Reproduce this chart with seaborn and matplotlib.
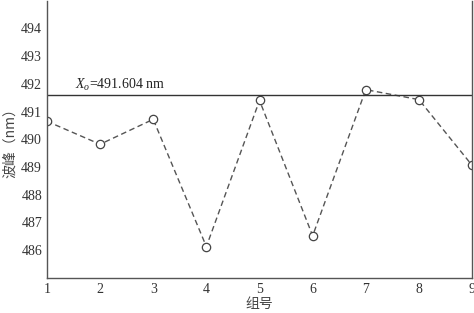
import matplotlib
matplotlib.use("Agg")
import matplotlib.pyplot as plt
import seaborn as sns
import pandas as pd

groups = [1, 2, 3, 4, 5, 6, 7, 8, 9]
peaks = [490.65, 489.82, 490.72, 486.13, 491.40, 486.52, 491.79, 491.43, 489.06]
x0_value = 491.604
y_ticks = [486, 487, 488, 489, 490, 491, 492, 493, 494]

sns.set_theme(style="white")
plt.rcParams['font.family'] = ['Liberation Serif', 'Noto Sans CJK SC']
plt.rcParams['mathtext.fontset'] = 'custom'
plt.rcParams['mathtext.it'] = 'Liberation Serif:italic'
plt.rcParams['mathtext.rm'] = 'Liberation Serif'

df = pd.DataFrame({"group": groups, "peak": peaks})

fig = plt.figure(figsize=(4.74, 3.13), dpi=100)
ax = fig.add_axes([0.099, 0.112, 0.897, 0.886])

sns.lineplot(data=df, x="group", y="peak", ax=ax, color="#555555",
             linestyle=(0, (4, 2.5)), linewidth=1.0, marker="o",
             markersize=6, markerfacecolor="white", markeredgecolor="#444444",
             markeredgewidth=0.9)
ax.axhline(x0_value, color="#333333", linewidth=1.0)
ax.text(1.52, x0_value + 0.2, r"$X_{o}$=491.604 nm", fontsize=10,
        family=['Liberation Serif'], color="#222222")

ax.set_xlim(1, 9)
ax.set_ylim(485, 495)
ax.set_xticks(groups)
ax.set_yticks(y_ticks)
ax.tick_params(direction="in", length=4, width=0.8, labelsize=10, colors="#333333")
for s in ["left", "bottom", "right"]:
    ax.spines[s].set_color("#555555")
    ax.spines[s].set_linewidth(1.0)
ax.spines["top"].set_visible(False)
ax.set_xlabel("组号", fontsize=10, family=['Noto Sans CJK SC'], color="#444444", labelpad=1)
ax.set_ylabel("波峰（nm）", fontsize=10, family=['Noto Sans CJK SC'], color="#444444", labelpad=3)

fig.savefig("out.png", dpi=100)
